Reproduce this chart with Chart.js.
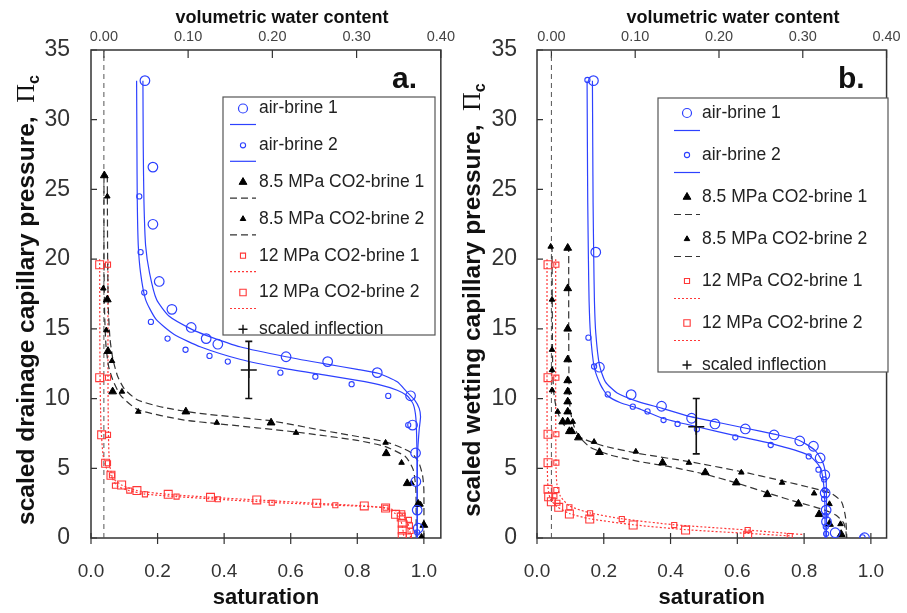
<!DOCTYPE html>
<html>
<head>
<meta charset="utf-8">
<script src="https://cdn.jsdelivr.net/npm/chart.js@4.4.1/dist/chart.umd.min.js"></script>
<style>
  body { margin: 0; background: #fff; width: 907px; height: 613px; overflow: hidden; position: relative; }
  #chartA { position: absolute; left: 0; top: 0; }
  #chartB { position: absolute; left: 453px; top: 0; }
</style>
</head>
<body>
<canvas id="chartA" width="460" height="613"></canvas>
<canvas id="chartB" width="454" height="613"></canvas>
<script>
// axis ticks and legend text
const satTicks = [0, 0.2, 0.4, 0.6, 0.8, 1.0];
const vwcTicks = [0, 0.1, 0.2, 0.3, 0.4];
const pcTicks = [0, 5, 10, 15, 20, 25, 30, 35];
const legendLabels = ["air-brine 1", "air-brine 2", "8.5 MPa CO2-brine 1", "8.5 MPa CO2-brine 2",
  "12 MPa CO2-brine 1", "12 MPa CO2-brine 2", "scaled inflection"];

// ---- panel a: drainage  [saturation, scaled Pc]
const aAir1 = [[0.162,32.8],[0.186,26.6],[0.186,22.5],[0.205,18.4],[0.243,16.4],[0.301,15.1],[0.346,14.3],[0.381,13.9],
  [0.586,13.0],[0.711,12.65],[0.860,11.86],[0.960,10.2],[0.966,8.1],[0.975,6.1],[0.976,4.05],[0.980,2.0],[0.983,0.7]];
const aAir2 = [[0.145,24.5],[0.149,20.5],[0.160,17.6],[0.180,15.5],[0.230,14.3],[0.284,13.5],[0.356,13.06],[0.411,12.65],
  [0.569,11.86],[0.674,11.57],[0.783,11.03],[0.893,10.19],[0.953,8.1],[0.980,0.4]];
const aTri1 = [[0.040,26.0],[0.049,17.1],[0.051,13.4],[0.065,10.5],[0.285,9.06],[0.541,8.27],[0.887,6.07],[0.950,3.92],
  [0.983,2.44],[1.0,0.93]];
const aTri2 = [[0.049,24.5],[0.037,17.9],[0.046,14.9],[0.063,12.7],[0.093,10.5],[0.142,9.06],[0.378,8.27],[0.616,7.55],
  [0.885,6.84],[0.933,5.4],[0.963,3.92],[0.990,2.4],[0.993,0.1]];
const aSq1 = [[0.051,19.6],[0.051,11.5],[0.051,7.4],[0.051,5.36],[0.063,4.5],[0.072,3.75],[0.115,3.4],[0.162,3.13],
  [0.257,2.97],[0.381,2.78],[0.543,2.53],[0.734,2.35],[0.885,2.17],[0.935,1.77],[0.955,1.3],[0.958,0.9],[0.960,0.5],[0.955,0.1]];
const aSq2 = [[0.026,19.6],[0.026,11.5],[0.032,7.4],[0.044,5.36],[0.060,4.5],[0.092,3.8],[0.138,3.4],[0.232,3.13],
  [0.359,2.92],[0.498,2.73],[0.678,2.49],[0.821,2.3],[0.885,2.15],[0.915,1.7],[0.932,1.5],[0.935,1.05],[0.935,0.57],[0.935,0.1]];
const aFitAir1 = [[0.156,32.8],[0.157,28],[0.159,24.2],[0.164,21],[0.176,19],[0.197,17.1],[0.235,15.9],[0.30,15.0],[0.35,14.5],
  [0.45,13.7],[0.586,13.0],[0.70,12.5],[0.80,12.1],[0.865,11.8],[0.92,11.2],[0.948,10.5],[0.972,9.9],[0.986,9.3],[0.99,8.7],
  [0.986,7.8],[0.981,6.0],[0.980,3.0],[0.980,0]];
const aFitAir2 = [[0.137,32.8],[0.138,28],[0.139,24.2],[0.142,21],[0.149,19],[0.164,17.1],[0.195,15.7],[0.25,14.6],[0.33,13.7],
  [0.45,12.8],[0.571,12.2],[0.70,11.7],[0.80,11.3],[0.865,11.0],[0.92,10.6],[0.95,10.2],[0.968,9.6],[0.976,8.6],[0.979,6.5],
  [0.980,3.0],[0.980,0]];
const aFitCo1 = [[0.049,26],[0.050,20],[0.052,16.5],[0.057,14.3],[0.066,12.8],[0.08,11.6],[0.10,10.7],[0.14,9.9],[0.22,9.35],
  [0.326,8.94],[0.54,8.4],[0.70,7.7],[0.885,6.9],[0.94,6.4],[0.965,6.07],[0.985,5.4],[0.996,4.5],[1.0,3.5],[1.0,0]];
const aFitCo2 = [[0.039,26],[0.039,20],[0.041,16],[0.045,13.8],[0.053,12.3],[0.066,11.3],[0.09,10.2],[0.141,9.2],[0.28,8.46],
  [0.38,8.2],[0.616,7.6],[0.80,7.0],[0.885,6.55],[0.945,5.83],[0.968,4.9],[0.976,3.5],[0.977,0]];
const aFitSq1 = [[0.051,20],[0.051,12],[0.052,8],[0.054,6],[0.058,5],[0.066,4.2],[0.08,3.7],[0.115,3.4],[0.162,3.15],
  [0.257,2.97],[0.381,2.78],[0.543,2.55],[0.734,2.35],[0.885,2.17],[0.93,1.8],[0.95,1.2],[0.958,0.5],[0.96,0]];
const aFitSq2 = [[0.026,20],[0.027,12],[0.030,8],[0.036,6],[0.045,5.1],[0.06,4.4],[0.092,3.8],[0.138,3.4],[0.232,3.13],
  [0.359,2.92],[0.498,2.73],[0.678,2.49],[0.821,2.3],[0.883,2.15],[0.912,1.8],[0.93,1.3],[0.937,0.6],[0.94,0]];
const aInflection = [0.474, 12.05, 10.0, 14.1]; // x, y, low, high

// ---- panel b: wetting
const bAir1 = [[0.169,32.8],[0.176,20.5],[0.187,12.25],[0.282,10.28],[0.373,9.45],[0.463,8.59],[0.533,8.18],[0.624,7.82],
  [0.71,7.39],[0.787,6.96],[0.828,6.58],[0.848,5.74],[0.862,4.52],[0.863,3.22],[0.866,2.0],[0.867,1.17],[0.893,0.38],[0.981,0.02]];
const bAir2 = [[0.151,32.85],[0.154,14.37],[0.171,12.3],[0.212,10.3],[0.287,9.42],[0.331,9.08],[0.379,8.46],[0.421,8.18],
  [0.479,7.8],[0.594,7.22],[0.70,6.67],[0.814,5.85],[0.843,4.9],[0.86,4.2],[0.862,3.44],[0.86,2.8],[0.864,1.6],[0.865,0.81],
  [0.866,0.3],[0.975,0.05]];
const bTri1 = [[0.092,20.8],[0.092,17.9],[0.092,15.0],[0.092,12.8],[0.092,11.3],[0.092,10.5],[0.092,9.78],[0.092,9.06],
  [0.077,8.34],[0.092,8.34],[0.097,7.65],[0.104,7.65],[0.124,7.2],[0.187,6.15],[0.376,5.4],[0.504,4.7],[0.597,3.97],
  [0.69,3.13],[0.783,2.45],[0.845,1.7],[0.876,1.0],[0.911,0.27]];
const bTri2 = [[0.041,20.9],[0.045,17.1],[0.045,13.5],[0.045,12.05],[0.045,10.6],[0.062,9.06],[0.107,8.34],[0.171,6.9],
  [0.296,6.2],[0.455,5.4],[0.612,4.7],[0.734,3.97],[0.83,3.2],[0.876,2.44],[0.909,1.0]];
const bSq1 = [[0.058,19.6],[0.058,11.5],[0.058,7.44],[0.058,5.4],[0.058,3.44],[0.052,3.0],[0.061,2.53],[0.097,2.2],
  [0.159,1.77],[0.254,1.36],[0.411,0.93],[0.631,0.57],[0.757,0.14]];
const bSq2 = [[0.033,19.6],[0.033,11.5],[0.033,7.44],[0.033,5.4],[0.033,3.49],[0.035,2.96],[0.043,2.6],[0.065,2.2],
  [0.097,1.72],[0.158,1.36],[0.288,0.93],[0.445,0.57],[0.631,0.2]];
const bFitAir1 = [[0.166,32.8],[0.167,28],[0.168,24],[0.170,20],[0.172,17],[0.176,14.7],[0.187,12.4],[0.205,11.2],[0.24,10.4],
  [0.303,9.78],[0.375,9.3],[0.46,8.7],[0.54,8.3],[0.626,7.87],[0.71,7.45],[0.783,7.03],[0.832,6.3],[0.857,5.36],[0.866,4.16],
  [0.867,2.0],[0.867,0]];
const bFitAir2 = [[0.150,32.8],[0.151,28],[0.152,24],[0.154,20],[0.156,17],[0.160,14.7],[0.171,12.3],[0.19,11.0],[0.212,10.2],
  [0.25,9.7],[0.303,9.3],[0.376,8.59],[0.479,7.98],[0.597,7.32],[0.70,6.79],[0.813,5.95],[0.847,5.11],[0.857,4.16],
  [0.862,2.5],[0.863,0]];
const bFitCo1 = [[0.095,21],[0.095,15],[0.096,11],[0.099,9.3],[0.108,8.2],[0.125,7.3],[0.16,6.5],[0.22,5.95],[0.303,5.5],
  [0.40,5.1],[0.499,4.6],[0.597,3.95],[0.695,3.2],[0.783,2.55],[0.85,2.1],[0.895,1.65],[0.918,1.1],[0.925,0.5],[0.927,0]];
const bFitCo2 = [[0.045,21],[0.046,15],[0.047,12],[0.050,10.5],[0.058,9.3],[0.075,8.3],[0.10,7.6],[0.14,7.1],[0.20,6.6],
  [0.303,6.07],[0.455,5.48],[0.612,4.76],[0.734,4.1],[0.813,3.65],[0.881,3.2],[0.912,2.6],[0.924,1.5],[0.928,0]];
const bFitSq1 = [[0.056,20],[0.056,10],[0.057,5],[0.06,3.8],[0.07,3.0],[0.097,2.3],[0.159,1.8],[0.254,1.38],[0.411,0.95],
  [0.631,0.57],[0.757,0.32],[0.80,0.25]];
const bFitSq2 = [[0.030,20],[0.030,10],[0.031,5],[0.033,3.6],[0.04,2.8],[0.06,2.25],[0.097,1.76],[0.158,1.38],[0.288,0.95],
  [0.445,0.6],[0.631,0.33],[0.76,0.15]];
const bInflection = [0.477, 7.98, 6.03, 10.0];

const FONT = '"Liberation Sans", Arial, Helvetica, sans-serif';
const BLUE = "rgb(45,65,255)";
const RED = "rgb(255,55,55)";
const INK = "#222";

// marker + line look of each series, same order as legendLabels
const styles = [
  { style: "circle", r: 4.8, color: BLUE, fill: "rgba(0,0,0,0)", bw: 1.2, line: BLUE, dash: [], lw: 1.2 },
  { style: "circle", r: 2.6, color: BLUE, fill: "rgba(0,0,0,0)", bw: 1.1, line: BLUE, dash: [], lw: 1.2 },
  { style: "triangle", r: 4.5, color: "#000", fill: "#000", bw: 1, line: "#333", dash: [7, 4], lw: 1.2 },
  { style: "triangle", r: 3.2, color: "#000", fill: "#000", bw: 1, line: "#333", dash: [7, 4], lw: 1.2 },
  { style: "rect", r: 3.6, color: RED, fill: "rgba(0,0,0,0)", bw: 1.1, line: RED, dash: [2, 2], lw: 1.2 },
  { style: "rect", r: 5.6, color: RED, fill: "rgba(0,0,0,0)", bw: 1.1, line: RED, dash: [2, 2], lw: 1.2 },
  { style: "cross", r: 5, color: "#111", fill: "#111", bw: 1.4, line: null }
];

const pts = arr => arr.map(([x, y]) => ({ x, y }));

function markerSet(data, st) {
  return { data: pts(data), showLine: false, pointStyle: st.style, pointRadius: st.r,
    borderColor: st.color, backgroundColor: st.fill, pointBorderWidth: st.bw, order: 1 };
}
function curveSet(data, st) {
  return { data: pts(data), showLine: true, pointRadius: 0, borderColor: st.line, borderWidth: st.lw,
    borderDash: st.dash, tension: 0.2, fill: false, order: 2 };
}

function drawYTitle(ctx, text, cx, cy) {
  ctx.save();
  ctx.translate(cx, cy);
  ctx.rotate(-Math.PI / 2);
  ctx.fillStyle = "#111";
  ctx.textBaseline = "alphabetic";
  ctx.textAlign = "left";
  const f1 = "bold 24.5px " + FONT, f2 = '26px "Liberation Serif", "DejaVu Serif", serif', f3 = "bold 16px " + FONT;
  ctx.font = f1; const w1 = ctx.measureText(text + "  ").width;
  ctx.font = f2; const w2 = ctx.measureText("Π").width;
  ctx.font = f3; const w3 = ctx.measureText("c").width;
  const x0 = -(w1 + w2 + w3) / 2;
  ctx.font = f1; ctx.fillText(text + "  ", x0, 9);
  ctx.font = f2; ctx.fillText("Π", x0 + w1, 9);
  ctx.font = f3; ctx.fillText("c", x0 + w1 + w2, 14);
  ctx.restore();
}

function makeDecor(p) {
  return {
    id: "decor",
    beforeDatasetsDraw(chart) {
      const { ctx, chartArea: a, scales } = chart;
      ctx.save();
      ctx.strokeStyle = "#333";
      ctx.lineWidth = 1.5;
      ctx.strokeRect(a.left, a.top, a.right - a.left, a.bottom - a.top);
      ctx.lineWidth = 1.2;
      ctx.beginPath();
      pcTicks.forEach(v => { const y = scales.y.getPixelForValue(v); ctx.moveTo(a.left, y); ctx.lineTo(a.left + 6, y); });
      vwcTicks.forEach(v => { const x = scales.x2.getPixelForValue(v); ctx.moveTo(x, a.top); ctx.lineTo(x, a.top + 8); });
      satTicks.forEach(v => { const x = scales.x.getPixelForValue(v); ctx.moveTo(x, a.bottom - 5); ctx.lineTo(x, a.bottom + 6); });
      ctx.stroke();
      ctx.restore();
    },
    afterDraw(chart) {
      const { ctx, chartArea: a } = chart;
      ctx.save();
      ctx.fillStyle = "#111";
      // axis titles
      ctx.textAlign = "center";
      ctx.textBaseline = "alphabetic";
      ctx.font = "bold 22px " + FONT;
      ctx.fillText("saturation", (a.left + a.right) / 2, 604);
      ctx.font = "bold 18px " + FONT;
      ctx.fillText("volumetric water content", p.topTitleX, 23);
      ctx.font = "bold 30px " + FONT;
      ctx.textAlign = "left";
      ctx.fillText(p.letter, p.letterX, 88);
      drawYTitle(ctx, p.yTitle, p.yTitleX, 300);

      // legend
      const L = p.legend;
      ctx.fillStyle = "#fff";
      ctx.fillRect(L.x, L.y, L.w, L.h);
      ctx.strokeStyle = "#555";
      ctx.lineWidth = 1.2;
      ctx.strokeRect(L.x, L.y, L.w, L.h);
      legendLabels.forEach((label, i) => {
        const st = styles[i];
        const y = L.first + i * L.step;
        ctx.save();
        ctx.strokeStyle = st.color;
        ctx.fillStyle = st.fill;
        ctx.lineWidth = st.bw;
        Chart.helpers.drawPoint(ctx, { pointStyle: st.style, radius: Math.min(st.r, 4.5), borderWidth: st.bw, rotation: 0 }, L.markerX, y);
        if (st.line) {
          ctx.beginPath();
          ctx.strokeStyle = st.line;
          ctx.lineWidth = st.lw;
          ctx.setLineDash(st.dash);
          ctx.moveTo(L.lineX1, y + L.lineOff);
          ctx.lineTo(L.lineX2, y + L.lineOff);
          ctx.stroke();
        }
        ctx.restore();
        ctx.fillStyle = INK;
        ctx.font = "17.5px " + FONT;
        ctx.textAlign = "left";
        ctx.textBaseline = "middle";
        ctx.fillText(label, L.textX, y);
      });
      ctx.restore();
    }
  };
}

function buildPanel(p) {
  const series = [p.air1, p.air2, p.tri1, p.tri2, p.sq1, p.sq2];
  const datasets = [];
  series.forEach((s, i) => {
    datasets.push(curveSet(p.fits[i], styles[i]));
    datasets.push(markerSet(s, styles[i]));
  });
  // vwc = 0 reference line
  datasets.push({ data: [{ x: 0, y: 0 }, { x: 0, y: 35 }], xAxisID: "x2", showLine: true, pointRadius: 0,
    borderColor: "#555", borderWidth: 1, borderDash: [5, 4], order: 3 });
  const [ix, iy, lo, hi] = p.inflection;
  datasets.push({ data: [{ x: ix, y: lo }, { x: ix, y: hi }], showLine: true, borderColor: "#111", borderWidth: 1.6,
    pointStyle: "line", pointRadius: 3.5, pointBorderColor: "#111", pointBorderWidth: 1.6, order: 0 });
  datasets.push({ data: [{ x: ix, y: iy }], pointStyle: "cross", pointRadius: 8, pointBorderColor: "#111",
    pointBorderWidth: 1.6, order: 0 });

  const tickFont = size => ({ size, family: FONT });
  const noGrid = { display: false, drawTicks: false };
  new Chart(document.getElementById(p.canvas), {
    type: "scatter",
    data: { datasets },
    options: {
      responsive: false,
      animation: false,
      events: [],
      layout: { padding: { left: 0, right: p.padRight, top: 0, bottom: 0 } },
      plugins: { legend: { display: false }, tooltip: { enabled: false } },
      scales: {
        x: {
          type: "linear", position: "bottom", min: 0, max: p.satMax,
          afterBuildTicks: s => { s.ticks = satTicks.map(v => ({ value: v })); },
          afterFit: s => { s.height = 75; },
          ticks: { callback: v => v.toFixed(1), font: tickFont(19), color: "#333", padding: 22, maxRotation: 0, autoSkip: false },
          grid: noGrid, border: { display: false }
        },
        x2: {
          type: "linear", position: "top", min: p.vwcMin, max: 0.4,
          afterBuildTicks: s => { s.ticks = vwcTicks.map(v => ({ value: v })); },
          afterFit: s => { s.height = 50; },
          ticks: { callback: v => v.toFixed(2), font: tickFont(14.5), color: "#444", padding: 4, maxRotation: 0, autoSkip: false },
          grid: noGrid, border: { display: false }
        },
        y: {
          type: "linear", min: 0, max: 35,
          afterBuildTicks: s => { s.ticks = pcTicks.map(v => ({ value: v })); },
          afterFit: s => { s.width = p.yWidth; },
          ticks: { font: tickFont(23), color: "#333", padding: p.yPad },
          grid: noGrid, border: { display: false }
        }
      }
    },
    plugins: [makeDecor(p)]
  });
}

buildPanel({
  canvas: "chartA", letter: "a.", letterX: 392, yTitle: "scaled drainage capillary pressure,", yTitleX: 25,
  topTitleX: 282, satMax: 1.051, vwcMin: -0.0153, yWidth: 91, yPad: 21, padRight: 18,
  air1: aAir1, air2: aAir2, tri1: aTri1, tri2: aTri2, sq1: aSq1, sq2: aSq2,
  fits: [aFitAir1, aFitAir2, aFitCo1, aFitCo2, aFitSq1, aFitSq2], inflection: aInflection,
  legend: { x: 223, y: 97, w: 212, h: 238, first: 108.5, step: 36.8, lineOff: 16, markerX: 243, textX: 259, lineX1: 230, lineX2: 256 }
});
buildPanel({
  canvas: "chartB", letter: "b.", letterX: 385, yTitle: "scaled wetting capillary pressure,", yTitleX: 18,
  topTitleX: 280, satMax: 1.047, vwcMin: -0.0172, yWidth: 84, yPad: 20, padRight: 14,
  air1: bAir1, air2: bAir2, tri1: bTri1, tri2: bTri2, sq1: bSq1, sq2: bSq2,
  fits: [bFitAir1, bFitAir2, bFitCo1, bFitCo2, bFitSq1, bFitSq2], inflection: bInflection,
  legend: { x: 205, y: 98, w: 230, h: 274, first: 113, step: 42, lineOff: 17.5, markerX: 234, textX: 249, lineX1: 221, lineX2: 247 }
});
</script>
</body>
</html>
